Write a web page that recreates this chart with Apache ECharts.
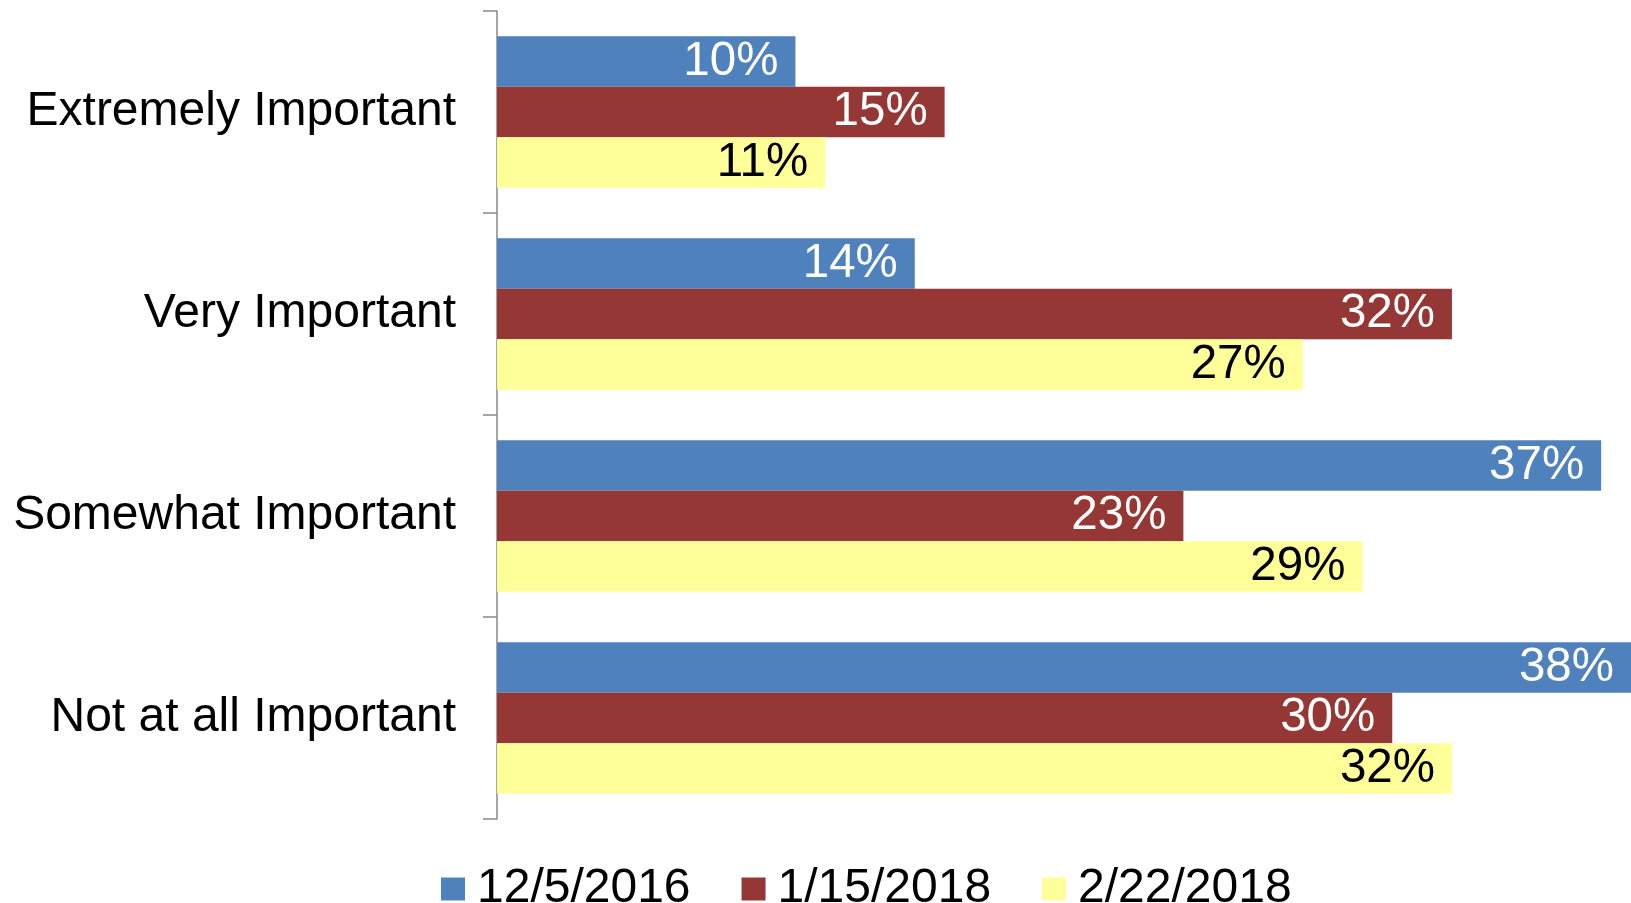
<!DOCTYPE html>
<html>
<head>
<meta charset="utf-8">
<script src="https://cdn.jsdelivr.net/npm/echarts@6/dist/echarts.min.js"></script>
<style>
    html, body { margin: 0; padding: 0; background: #fff; }
    #chart { width: 1631px; height: 903px; }
</style>
</head>
<body>
<div id="chart"></div>
<script>
// 分类与数据 | Categories and values
const categories = ['Extremely Important', 'Very Important', 'Somewhat Important', 'Not at all Important'];
const seriesNames = ['12/5/2016', '1/15/2018', '2/22/2018'];
const values2016 = [10, 14, 37, 38];
const valuesJan2018 = [15, 32, 23, 30];
const valuesFeb2018 = [11, 27, 29, 32];

const colors = ['#4F81BD', '#953735', '#FFFF99'];
const labelColors = ['#ffffff', '#ffffff', '#000000'];
const FONT = '"Liberation Sans", Arial, sans-serif';

const chart = echarts.init(document.getElementById('chart'));

function makeSeries(name, data, i) {
    return {
        name: name,
        type: 'bar',
        data: data,
        barGap: 0,
        barCategoryGap: '25%',
        clip: false,
        itemStyle: { color: colors[i] },
        label: {
            show: true,
            position: 'insideRight',
            distance: 17,
            formatter: '{c}%',
            color: labelColors[i],
            fontFamily: FONT,
            fontSize: 47.5
        }
    };
}

const option = {
    animation: false,
    grid: {
        left: 497,
        top: 11,
        width: 1138,
        height: 808
    },
    xAxis: {
        type: 'value',
        min: 0,
        max: 38,
        show: false
    },
    yAxis: {
        type: 'category',
        data: categories,
        inverse: true,
        axisLine: { show: true, lineStyle: { color: '#898989', width: 1.5 } },
        axisTick: { show: true, inside: false, length: 14, lineStyle: { color: '#898989', width: 1.5 } },
        axisLabel: {
            margin: 41,
            color: '#000',
            fontFamily: FONT,
            fontSize: 48
        }
    },
    legend: {
        left: 436,
        top: 860,
        icon: 'rect',
        itemWidth: 24,
        itemHeight: 23,
        itemGap: 51,
        textStyle: {
            color: '#000',
            fontFamily: FONT,
            fontSize: 48,
            padding: [0, 0, 0, 7]
        },
        data: seriesNames
    },
    series: [
        makeSeries(seriesNames[0], values2016, 0),
        makeSeries(seriesNames[1], valuesJan2018, 1),
        makeSeries(seriesNames[2], valuesFeb2018, 2)
    ]
};

chart.setOption(option);
</script>
</body>
</html>
